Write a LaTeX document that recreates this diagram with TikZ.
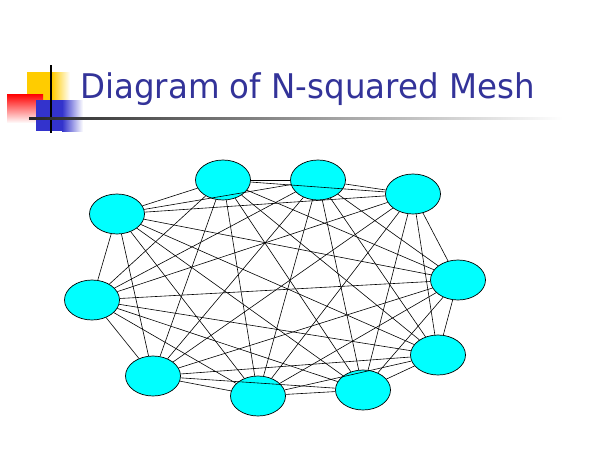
\documentclass[tikz,border=0pt]{standalone}
\usepackage{fontspec}
\newfontfamily\titlefont{DejaVu Sans}
\definecolor{titleblue}{RGB}{51,51,153}
\definecolor{logoyellow}{RGB}{255,204,0}
\definecolor{logoblue}{RGB}{51,51,204}
\definecolor{meshcyan}{RGB}{0,255,255}
\tikzset{
    mesh node/.style={draw=black, line width=0.7pt, fill=meshcyan, ellipse,
        minimum width=55pt, minimum height=40pt, inner sep=0pt},
    mesh link/.style={line width=0.6pt},
}
\usetikzlibrary{shapes.geometric}
\begin{document}
\begin{tikzpicture}[x=1pt,y=-1pt]
        \useasboundingbox (0,0) rectangle (600,450);
        % logo
        \fill[logoyellow] (27,72) rectangle (52,100);
        \shade[left color=logoyellow, right color=white] (52,72) rectangle (70,100);
        \shade[shading angle=-45, top color=red, bottom color=red!4] (7,94) rectangle (43,122);
        \fill[logoblue] (36,100) rectangle (62,131);
        \shade[left color=logoblue, right color=white] (62,100) rectangle (83,131);
        \draw[line width=1.5pt] (51,65) -- (51,133);
        \shade[left color=black!85, right color=white] (29,117) rectangle (563,119);
        \node[anchor=base west, inner sep=0pt, text=titleblue] (title) at (80,98)
            {\scalebox{0.955}[1]{\titlefont\fontsize{34}{40}\selectfont Diagram of N-squared Mesh}};
        % mesh
        \node[mesh node] (n1) at (117,214) {};
        \node[mesh node] (n2) at (223,180) {};
        \node[mesh node] (n3) at (318,180) {};
        \node[mesh node] (n4) at (413,194) {};
        \node[mesh node] (n5) at (458,280) {};
        \node[mesh node] (n6) at (438,355) {};
        \node[mesh node] (n7) at (363,390) {};
        \node[mesh node] (n8) at (258,396) {};
        \node[mesh node] (n9) at (153,376) {};
        \node[mesh node] (n10) at (92,300) {};
        \foreach \i in {1,...,9} {
            \pgfmathtruncatemacro\k{\i+1}
            \foreach \j in {\k,...,10}
                \draw[mesh link] (n\i) -- (n\j);
        }
    \end{tikzpicture}
\end{document}
